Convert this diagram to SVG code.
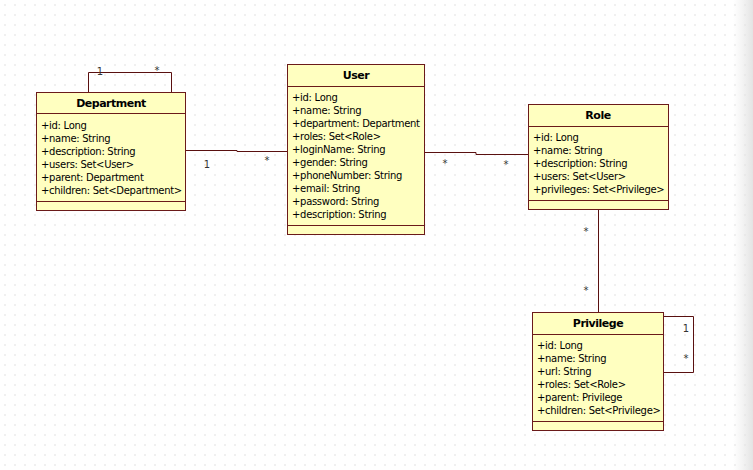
<svg xmlns="http://www.w3.org/2000/svg" width="753" height="470" viewBox="0 0 753 470">
<defs>
<pattern id="grid" width="10" height="10" patternUnits="userSpaceOnUse">
<rect x="4" y="4" width="2" height="2" fill="#f0f0f0"/>
</pattern>
<linearGradient id="edge" x1="0" y1="0" x2="1" y2="0">
<stop offset="0" stop-color="#e8e8e8" stop-opacity="0"/>
<stop offset="1" stop-color="#e0e0e0" stop-opacity="0.9"/>
</linearGradient>
</defs>
<style>
.box{fill:#ffffc0;stroke:#6b1a1a;stroke-width:1}
.sep{stroke:#6b1a1a;stroke-width:1}
.title{font-family:"DejaVu Sans",sans-serif;font-size:11px;font-weight:bold;fill:#000;text-anchor:middle;letter-spacing:-0.5px}
.attr{font-family:"DejaVu Sans",sans-serif;font-size:10px;fill:#000;letter-spacing:-0.3px}
.conn{fill:none;stroke:#5a1010;stroke-width:1}
.mult{font-family:"DejaVu Sans",sans-serif;font-size:10px;fill:#333;text-anchor:middle}
</style>
<rect width="753" height="470" fill="#fff"/>
<rect width="753" height="470" fill="url(#grid)"/>
<rect x="733" y="0" width="20" height="470" fill="url(#edge)"/>

<g id="connectors">
<path class="conn" d="M88.5,92 V72.5 H171.5 V92"/>
<path class="conn" d="M186,150.5 H237 V151.5 H287"/>
<path class="conn" d="M425,152.5 H476 V154.5 H528"/>
<path class="conn" d="M598.5,210 V312"/>
<path class="conn" d="M664,316.5 H693.5 V372.5 H664"/>
<text class="mult" x="100" y="75">1</text>
<text class="mult" x="157" y="74">*</text>
<text class="mult" x="207" y="168">1</text>
<text class="mult" x="267" y="164">*</text>
<text class="mult" x="445" y="167">*</text>
<text class="mult" x="506" y="168">*</text>
<text class="mult" x="586" y="235">*</text>
<text class="mult" x="586" y="294">*</text>
<text class="mult" x="686" y="332">1</text>
<text class="mult" x="686" y="362">*</text>
</g>

<g id="department">
<rect class="box" x="36.5" y="92.5" width="149" height="118"/>
<line class="sep" x1="36.5" y1="113.5" x2="185.5" y2="113.5"/>
<line class="sep" x1="36.5" y1="201.5" x2="185.5" y2="201.5"/>
<text class="title" x="111" y="107">Department</text>
<text class="attr" x="41" y="129">+id: Long</text>
<text class="attr" x="41" y="142">+name: String</text>
<text class="attr" x="41" y="155">+description: String</text>
<text class="attr" x="41" y="168">+users: Set&lt;User&gt;</text>
<text class="attr" x="41" y="181">+parent: Department</text>
<text class="attr" x="41" y="194">+children: Set&lt;Department&gt;</text>
</g>

<g id="user">
<rect class="box" x="287.5" y="64.5" width="137" height="170"/>
<line class="sep" x1="287.5" y1="86.5" x2="424.5" y2="86.5"/>
<line class="sep" x1="287.5" y1="225.5" x2="424.5" y2="225.5"/>
<text class="title" x="356" y="79">User</text>
<text class="attr" x="292" y="101">+id: Long</text>
<text class="attr" x="292" y="114">+name: String</text>
<text class="attr" x="292" y="127">+department: Department</text>
<text class="attr" x="292" y="140">+roles: Set&lt;Role&gt;</text>
<text class="attr" x="292" y="153">+loginName: String</text>
<text class="attr" x="292" y="166">+gender: String</text>
<text class="attr" x="292" y="179">+phoneNumber: String</text>
<text class="attr" x="292" y="192">+email: String</text>
<text class="attr" x="292" y="205">+password: String</text>
<text class="attr" x="292" y="218">+description: String</text>
</g>

<g id="role">
<rect class="box" x="528.5" y="104.5" width="140" height="105"/>
<line class="sep" x1="528.5" y1="126.5" x2="668.5" y2="126.5"/>
<line class="sep" x1="528.5" y1="200.5" x2="668.5" y2="200.5"/>
<text class="title" x="598" y="119">Role</text>
<text class="attr" x="533" y="141">+id: Long</text>
<text class="attr" x="533" y="154">+name: String</text>
<text class="attr" x="533" y="167">+description: String</text>
<text class="attr" x="533" y="180">+users: Set&lt;User&gt;</text>
<text class="attr" x="533" y="193">+privileges: Set&lt;Privilege&gt;</text>
</g>

<g id="privilege">
<rect class="box" x="532.5" y="312.5" width="131" height="118"/>
<line class="sep" x1="532.5" y1="334.5" x2="663.5" y2="334.5"/>
<line class="sep" x1="532.5" y1="421.5" x2="663.5" y2="421.5"/>
<text class="title" x="598" y="327">Privilege</text>
<text class="attr" x="537" y="349">+id: Long</text>
<text class="attr" x="537" y="362">+name: String</text>
<text class="attr" x="537" y="375">+url: String</text>
<text class="attr" x="537" y="388">+roles: Set&lt;Role&gt;</text>
<text class="attr" x="537" y="401">+parent: Privilege</text>
<text class="attr" x="537" y="414">+children: Set&lt;Privilege&gt;</text>
</g>
</svg>
